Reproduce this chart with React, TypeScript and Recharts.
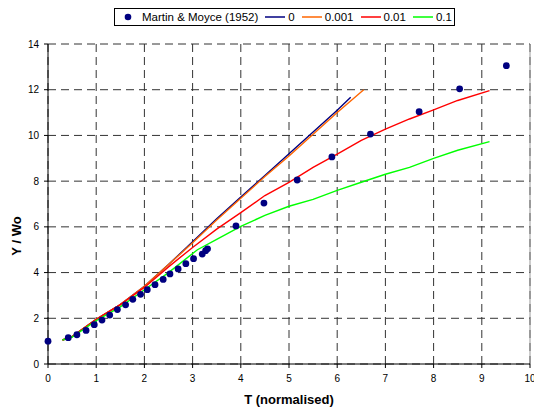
import { ComposedChart, Line, Scatter, XAxis, YAxis, CartesianGrid, ReferenceLine } from 'recharts';

// Martin & Moyce (1952) measurements
const mmT = [0, 0.42, 0.6, 0.79, 0.96, 1.12, 1.28, 1.44, 1.61, 1.76, 1.92, 2.06, 2.22, 2.39, 2.53, 2.7, 2.86, 3.02, 3.2, 3.27, 3.31, 3.9, 4.48, 5.17, 5.89, 6.69, 7.7, 8.54, 9.51];
const mmY = [1.0, 1.15, 1.28, 1.47, 1.72, 1.92, 2.14, 2.38, 2.59, 2.83, 3.05, 3.25, 3.47, 3.7, 3.94, 4.16, 4.39, 4.61, 4.81, 4.96, 5.04, 6.04, 7.04, 8.05, 9.06, 10.06, 11.04, 12.04, 13.05];

// model curves
const t0 = [0.3, 0.5, 1, 1.5, 2, 2.5, 3, 3.5, 4, 4.5, 5, 5.5, 6, 6.28];
const y0 = [1.05, 1.2, 1.95, 2.6, 3.4, 4.35, 5.35, 6.35, 7.3, 8.25, 9.2, 10.15, 11.1, 11.67];
const t001 = [0.3, 0.5, 1, 1.5, 2, 2.5, 3, 3.5, 4, 4.5, 5, 5.5, 6, 6.55];
const y001 = [1.05, 1.2, 1.95, 2.6, 3.4, 4.35, 5.3, 6.3, 7.25, 8.2, 9.1, 10.05, 11.0, 12.0];
const t01 = [0.3, 0.5, 1, 1.5, 2, 2.5, 3, 3.5, 4, 4.5, 5, 5.5, 6, 6.5, 7, 7.5, 8, 8.5, 9.16];
const y01 = [1.05, 1.2, 1.95, 2.6, 3.35, 4.25, 5.1, 5.9, 6.62, 7.37, 7.95, 8.6, 9.18, 9.78, 10.28, 10.72, 11.12, 11.53, 11.96];
const t1 = [0.3, 0.5, 1, 1.5, 2, 2.5, 3.1, 3.5, 4, 4.5, 5, 5.5, 6, 6.5, 7, 7.5, 8, 8.5, 9.16];
const y1 = [1.05, 1.18, 1.9, 2.5, 3.25, 4.0, 5.0, 5.45, 6.02, 6.5, 6.9, 7.2, 7.6, 7.95, 8.3, 8.6, 9.0, 9.35, 9.73];

const xTicks = [0, 1, 2, 3, 4, 5, 6, 7, 8, 9, 10];
const yTicks = [0, 2, 4, 6, 8, 10, 12, 14];

const toPts = (xs: number[], ys: number[]) => xs.map((x, i) => ({ x, y: ys[i] }));

const curves = [
  { name: '0', color: '#000080', data: toPts(t0, y0) },
  { name: '0.001', color: '#FF6600', data: toPts(t001, y001) },
  { name: '0.01', color: '#FF0000', data: toPts(t01, y01) },
  { name: '0.1', color: '#00FF00', data: toPts(t1, y1) },
];
const measured = toPts(mmT, mmY);

const FONT = 'Arial, "Liberation Sans", sans-serif';

function Dot(props: any) {
  return <circle cx={props.cx} cy={props.cy} r={3.4} fill="#000080" />;
}

function ChartLegend() {
  return (
    <div style={{ position: 'absolute', left: 114, top: 8, height: 18, boxSizing: 'border-box', border: '1px solid #000', background: '#fff', display: 'flex', alignItems: 'center', padding: '0 2px 0 4px', gap: 7, fontFamily: FONT, fontSize: 11.5, color: '#000', whiteSpace: 'nowrap' }}>
      <div style={{ display: 'flex', alignItems: 'center' }}>
        <svg width={18} height={10}><circle cx={9} cy={5} r={3.3} fill="#000080" /></svg>
        <span style={{ marginLeft: 5 }}>Martin &amp; Moyce (1952)</span>
      </div>
      {curves.map((c) => (
        <div key={c.name} style={{ display: 'flex', alignItems: 'center' }}>
          <svg width={20} height={10}><line x1={0} y1={5} x2={20} y2={5} stroke={c.color} strokeWidth={1.5} /></svg>
          <span style={{ marginLeft: 3 }}>{c.name}</span>
        </div>
      ))}
    </div>
  );
}

export default function App() {
  return (
    <div style={{ position: 'absolute', left: 0, top: 0, width: 534, height: 407, background: '#fff', fontFamily: FONT }}>
      <ComposedChart width={534} height={407} margin={{ top: 44, right: 4, bottom: 0, left: 0 }}>
        <CartesianGrid stroke="#333" strokeDasharray="8 5" />
        <ReferenceLine x={10} stroke="#999" strokeWidth={1} />
        <XAxis
          type="number"
          dataKey="x"
          domain={[0, 10]}
          ticks={xTicks}
          interval={0}
          height={43}
          tickSize={4}
          tickMargin={7}
          axisLine={{ stroke: '#000' }}
          tickLine={{ stroke: '#000' }}
          tick={{ fontSize: 10, fill: '#000', fontFamily: FONT }}
          label={() => (
            <text x={289} y={404} textAnchor="middle" fontSize={13} fontWeight="bold" fontFamily={FONT} fill="#000">T (normalised)</text>
          )}
        />
        <YAxis
          type="number"
          dataKey="y"
          domain={[0, 14]}
          ticks={yTicks}
          interval={0}
          width={48}
          tickSize={4}
          tickMargin={5}
          axisLine={{ stroke: '#000' }}
          tickLine={{ stroke: '#000' }}
          tick={{ fontSize: 10, fill: '#000', fontFamily: FONT }}
          label={() => (
            <text x={21} y={236} transform="rotate(-90 21 236)" textAnchor="middle" fontSize={13} fontWeight="bold" fontFamily={FONT} fill="#000">Y / Wo</text>
          )}
        />
        <Scatter name="Martin & Moyce (1952)" data={measured} shape={<Dot />} isAnimationActive={false} />
        {curves.map((c) => (
          <Line
            key={c.name}
            name={c.name}
            data={c.data}
            dataKey="y"
            type="linear"
            stroke={c.color}
            strokeWidth={1.4}
            dot={false}
            activeDot={false}
            isAnimationActive={false}
          />
        ))}
      </ComposedChart>
      <ChartLegend />
    </div>
  );
}
